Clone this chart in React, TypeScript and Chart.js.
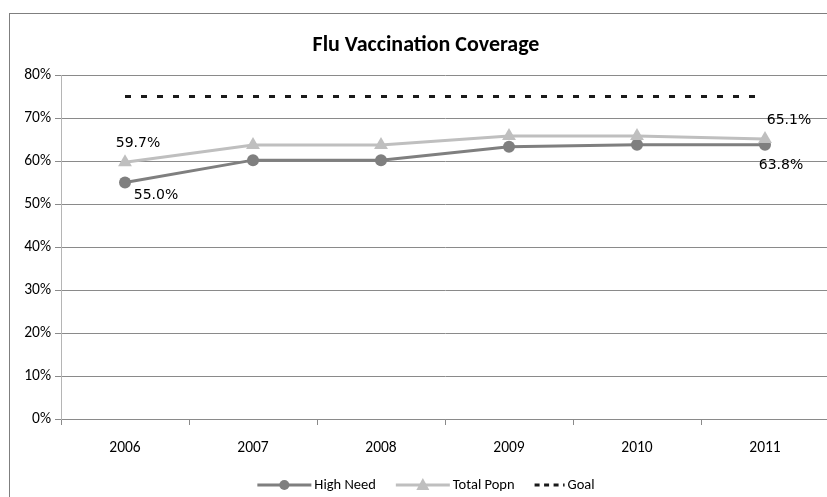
import React, { useEffect, useRef } from "react";
import { Chart, registerables } from "chart.js";

Chart.register(...registerables);

const chartTitle = "Flu Vaccination Coverage";
const years = ["2006", "2007", "2008", "2009", "2010", "2011"];
const highNeed = [55.0, 60.2, 60.2, 63.3, 63.8, 63.8];
const totalPopn = [59.7, 63.7, 63.7, 65.8, 65.8, 65.1];
const goal = [75, 75, 75, 75, 75, 75];
const seriesNames = ["High Need", "Total Popn", "Goal"];
const yMin = 0;
const yMax = 80;
const yStep = 10;

// which points carry a value label: [series name, year]
const labelledPoints: [string, string][] = [
  ["Total Popn", "2006"],
  ["High Need", "2006"],
  ["Total Popn", "2011"],
  ["High Need", "2011"],
];

const NARROW = "Carlito, 'Liberation Sans Narrow', 'DejaVu Sans Condensed', 'Open Sans', sans-serif";
const WIDE = "'DejaVu Sans', Verdana, sans-serif";

const colHigh = "#7f7f7f";
const colTotal = "#bfbfbf";
const colGoal = "#1a1a1a";
const gridCol = "#8a8a8a";

const PLOT_LEFT = 51;
const PLOT_RIGHT_PAD = 11;
const PLOT_TOP = 61;
const X_AXIS_H = 78;

// label offsets per labelled point (style)
const labelOffsets: Record<string, [number, number]> = {
  "Total Popn|2006": [13, -19],
  "High Need|2006": [31, 13],
  "Total Popn|2011": [24, -19],
  "High Need|2011": [16, 21],
};

const overlayPlugin = {
  id: "overlay",
  afterDatasetsDraw(chart: any) {
    const ctx = chart.ctx as CanvasRenderingContext2D;
    ctx.save();
    ctx.font = `14px ${WIDE}`;
    ctx.fillStyle = "#000";
    ctx.textAlign = "center";
    ctx.textBaseline = "middle";
    labelledPoints.forEach(([name, yr]) => {
      const di = chart.data.datasets.findIndex((d: any) => d.label === name);
      const pi = years.indexOf(yr);
      const meta = chart.getDatasetMeta(di);
      const el = meta.data[pi];
      const v = chart.data.datasets[di].data[pi] as number;
      const off = labelOffsets[`${name}|${yr}`] || [0, -15];
      ctx.fillText(v.toFixed(1) + "%", el.x + off[0], el.y + off[1]);
    });
    ctx.restore();
  },
  afterDraw(chart: any) {
    const ctx = chart.ctx as CanvasRenderingContext2D;
    ctx.save();
    // title
    ctx.font = `bold 22px ${NARROW}`;
    ctx.fillStyle = "#000";
    ctx.textAlign = "center";
    ctx.textBaseline = "middle";
    ctx.fillText(chartTitle, 416, 31);

    // legend
    ctx.font = `14.5px ${NARROW}`;
    const lineW = 54;
    const goalW = 30;
    const gapText = 3;
    const gapItem = 20;
    const widths = seriesNames.map((n, i) => (i === 2 ? goalW : lineW) + gapText + ctx.measureText(n).width);
    const total = widths.reduce((a, b) => a + b, 0) + gapItem * (seriesNames.length - 1);
    let x = 416 - total / 2;
    const y = 471;
    seriesNames.forEach((n, i) => {
      const segW = i === 2 ? goalW : lineW;
      ctx.save();
      if (i === 0) {
        ctx.strokeStyle = colHigh;
        ctx.lineWidth = 3;
        ctx.beginPath();
        ctx.moveTo(x, y);
        ctx.lineTo(x + segW, y);
        ctx.stroke();
        ctx.fillStyle = colHigh;
        ctx.beginPath();
        ctx.arc(x + segW / 2, y, 5, 0, Math.PI * 2);
        ctx.fill();
      } else if (i === 1) {
        ctx.strokeStyle = colTotal;
        ctx.lineWidth = 3;
        ctx.beginPath();
        ctx.moveTo(x, y);
        ctx.lineTo(x + segW, y);
        ctx.stroke();
        ctx.fillStyle = colTotal;
        const cx = x + segW / 2;
        ctx.beginPath();
        ctx.moveTo(cx, y - 7);
        ctx.lineTo(cx + 6.5, y + 5);
        ctx.lineTo(cx - 6.5, y + 5);
        ctx.closePath();
        ctx.fill();
      } else {
        ctx.strokeStyle = colGoal;
        ctx.lineWidth = 3;
        ctx.setLineDash([5, 4.5]);
        ctx.beginPath();
        ctx.moveTo(x, y);
        ctx.lineTo(x + segW, y);
        ctx.stroke();
      }
      ctx.restore();
      ctx.fillStyle = "#000";
      ctx.textAlign = "left";
      ctx.textBaseline = "middle";
      ctx.fillText(n, x + segW + gapText, y);
      x += widths[i] + gapItem;
    });
    ctx.restore();
  },
};

export default function App() {
  const ref = useRef<HTMLCanvasElement>(null);
  useEffect(() => {
    if (!ref.current) return;
    const chart = new Chart(ref.current, {
      type: "line",
      data: {
        labels: years,
        datasets: [
          {
            label: seriesNames[0],
            data: highNeed,
            borderColor: colHigh,
            backgroundColor: colHigh,
            borderWidth: 3,
            pointStyle: "circle",
            pointRadius: 6,
            pointBorderWidth: 0,
            order: 2,
          },
          {
            label: seriesNames[1],
            data: totalPopn,
            borderColor: colTotal,
            backgroundColor: colTotal,
            borderWidth: 3,
            pointStyle: "triangle",
            pointRadius: 8,
            pointBorderWidth: 0,
            order: 1,
          },
          {
            label: seriesNames[2],
            data: goal,
            borderColor: colGoal,
            backgroundColor: colGoal,
            borderWidth: 3,
            borderDash: [6, 10],
            borderCapStyle: "butt",
            pointRadius: 0,
            order: 3,
          },
        ],
      },
      options: {
        responsive: false,
        animation: false,
        events: [],
        layout: { padding: { left: 0, right: PLOT_RIGHT_PAD, top: PLOT_TOP, bottom: 0 } },
        plugins: {
          legend: { display: false },
          title: { display: false },
          tooltip: { enabled: false },
        },
        scales: {
          x: {
            offset: true,
            grid: {
              offset: true,
              drawOnChartArea: false,
              drawTicks: true,
              tickLength: 6,
              color: gridCol,
            },
            border: { color: gridCol, width: 1 },
            ticks: {
              color: "#000",
              font: { family: NARROW, size: 15.5 },
              padding: 14,
              maxRotation: 0,
            },
            afterFit: (s: any) => {
              s.height = X_AXIS_H;
            },
          },
          y: {
            min: yMin,
            max: yMax,
            grid: {
              color: gridCol,
              tickLength: 6,
              drawTicks: true,
            },
            border: { color: "#b5b5b5", width: 1 },
            ticks: {
              stepSize: yStep,
              color: "#000",
              font: { family: NARROW, size: 15.5 },
              padding: 4,
              callback: (v: any) => `${v}%`,
            },
            afterFit: (s: any) => {
              s.width = PLOT_LEFT;
            },
          },
        },
      },
      plugins: [overlayPlugin],
    });
    return () => chart.destroy();
  }, []);

  return (
    <div
      style={{
        position: "fixed",
        left: 0,
        top: 0,
        width: 827,
        height: 497,
        overflow: "hidden",
        background: "#fff",
      }}
    >
      <div
        style={{
          position: "absolute",
          left: 9,
          top: 13,
          width: 840,
          height: 500,
          borderLeft: "1px solid #7f7f7f",
          borderTop: "1px solid #7f7f7f",
        }}
      >
        <canvas ref={ref} width={830} height={483} style={{ display: "block" }} />
      </div>
    </div>
  );
}
